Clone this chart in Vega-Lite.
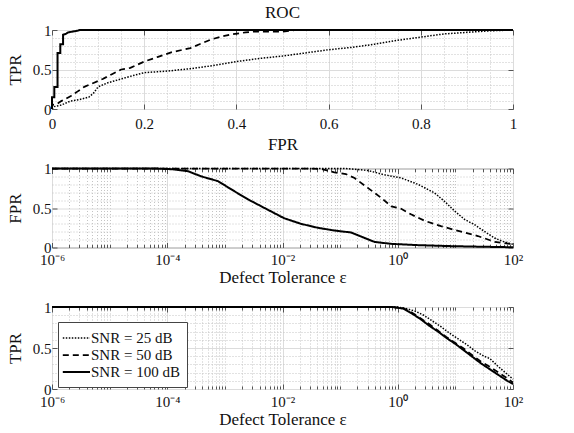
{
  "$schema": "https://vega.github.io/schema/vega-lite/v6.json",
  "background": "white",
  "padding": {"left": 5, "top": 3, "right": 5, "bottom": 5},
  "bounds": "flush",
  "spacing": 59.5,
  "config": {
    "font": "Liberation Serif",
    "view": {"stroke": "#808080", "strokeWidth": 1},
    "axis": {
      "domain": false,
      "grid": true,
      "labelFontSize": 15,
      "labelColor": "#111111",
      "titleFontSize": 17,
      "titleFontWeight": "normal",
      "titleColor": "#111111",
      "tickColor": "#555555",
      "labelOverlap": false,
      "labelBound": false,
      "labelFlush": false
    },
    "legend": {
      "orient": "none", "legendX": 6, "legendY": 15, "title": null,
      "symbolType": "M-1.4,0H2", "symbolSize": 256, "strokeColor": "#444444", "fillColor": "white",
      "padding": 7, "labelFontSize": 15, "labelColor": "#111111", "rowPadding": 0,
      "labelOffset": 8, "symbolStrokeColor": "black", "symbolFillColor": "transparent", "cornerRadius": 0
    }
  },
  "datasets": {
    "roc": [
      {"snr": "SNR = 100 dB", "FPR": 0, "TPR": 0},
      {"snr": "SNR = 100 dB", "FPR": 0, "TPR": 0.15},
      {"snr": "SNR = 100 dB", "FPR": 0.005, "TPR": 0.15},
      {"snr": "SNR = 100 dB", "FPR": 0.005, "TPR": 0.28},
      {"snr": "SNR = 100 dB", "FPR": 0.012, "TPR": 0.28},
      {"snr": "SNR = 100 dB", "FPR": 0.012, "TPR": 0.71},
      {"snr": "SNR = 100 dB", "FPR": 0.018, "TPR": 0.71},
      {"snr": "SNR = 100 dB", "FPR": 0.018, "TPR": 0.82},
      {"snr": "SNR = 100 dB", "FPR": 0.024, "TPR": 0.82},
      {"snr": "SNR = 100 dB", "FPR": 0.024, "TPR": 0.94},
      {"snr": "SNR = 100 dB", "FPR": 0.03, "TPR": 0.95},
      {"snr": "SNR = 100 dB", "FPR": 0.035, "TPR": 0.97},
      {"snr": "SNR = 100 dB", "FPR": 0.045, "TPR": 0.98},
      {"snr": "SNR = 100 dB", "FPR": 0.055, "TPR": 0.99},
      {"snr": "SNR = 100 dB", "FPR": 0.06, "TPR": 1},
      {"snr": "SNR = 100 dB", "FPR": 1, "TPR": 1},
      {"snr": "SNR = 50 dB", "FPR": 0, "TPR": 0},
      {"snr": "SNR = 50 dB", "FPR": 0, "TPR": 0.05},
      {"snr": "SNR = 50 dB", "FPR": 0.01, "TPR": 0.06},
      {"snr": "SNR = 50 dB", "FPR": 0.02, "TPR": 0.1},
      {"snr": "SNR = 50 dB", "FPR": 0.04, "TPR": 0.16},
      {"snr": "SNR = 50 dB", "FPR": 0.055, "TPR": 0.22},
      {"snr": "SNR = 50 dB", "FPR": 0.07, "TPR": 0.28},
      {"snr": "SNR = 50 dB", "FPR": 0.09, "TPR": 0.33},
      {"snr": "SNR = 50 dB", "FPR": 0.11, "TPR": 0.38},
      {"snr": "SNR = 50 dB", "FPR": 0.13, "TPR": 0.44},
      {"snr": "SNR = 50 dB", "FPR": 0.15, "TPR": 0.5},
      {"snr": "SNR = 50 dB", "FPR": 0.17, "TPR": 0.52},
      {"snr": "SNR = 50 dB", "FPR": 0.2, "TPR": 0.6},
      {"snr": "SNR = 50 dB", "FPR": 0.23, "TPR": 0.66},
      {"snr": "SNR = 50 dB", "FPR": 0.26, "TPR": 0.72},
      {"snr": "SNR = 50 dB", "FPR": 0.3, "TPR": 0.77},
      {"snr": "SNR = 50 dB", "FPR": 0.32, "TPR": 0.82},
      {"snr": "SNR = 50 dB", "FPR": 0.345, "TPR": 0.88},
      {"snr": "SNR = 50 dB", "FPR": 0.37, "TPR": 0.92},
      {"snr": "SNR = 50 dB", "FPR": 0.39, "TPR": 0.945},
      {"snr": "SNR = 50 dB", "FPR": 0.42, "TPR": 0.97},
      {"snr": "SNR = 50 dB", "FPR": 0.44, "TPR": 0.98},
      {"snr": "SNR = 50 dB", "FPR": 0.5, "TPR": 0.98},
      {"snr": "SNR = 50 dB", "FPR": 0.53, "TPR": 1},
      {"snr": "SNR = 50 dB", "FPR": 1, "TPR": 1},
      {"snr": "SNR = 25 dB", "FPR": 0, "TPR": 0},
      {"snr": "SNR = 25 dB", "FPR": 0.005, "TPR": 0.03},
      {"snr": "SNR = 25 dB", "FPR": 0.02, "TPR": 0.05},
      {"snr": "SNR = 25 dB", "FPR": 0.04, "TPR": 0.1},
      {"snr": "SNR = 25 dB", "FPR": 0.06, "TPR": 0.12},
      {"snr": "SNR = 25 dB", "FPR": 0.08, "TPR": 0.15},
      {"snr": "SNR = 25 dB", "FPR": 0.09, "TPR": 0.2},
      {"snr": "SNR = 25 dB", "FPR": 0.1, "TPR": 0.28},
      {"snr": "SNR = 25 dB", "FPR": 0.12, "TPR": 0.33},
      {"snr": "SNR = 25 dB", "FPR": 0.15, "TPR": 0.38},
      {"snr": "SNR = 25 dB", "FPR": 0.18, "TPR": 0.43},
      {"snr": "SNR = 25 dB", "FPR": 0.2, "TPR": 0.46},
      {"snr": "SNR = 25 dB", "FPR": 0.25, "TPR": 0.48},
      {"snr": "SNR = 25 dB", "FPR": 0.3, "TPR": 0.51},
      {"snr": "SNR = 25 dB", "FPR": 0.35, "TPR": 0.55},
      {"snr": "SNR = 25 dB", "FPR": 0.4, "TPR": 0.6},
      {"snr": "SNR = 25 dB", "FPR": 0.45, "TPR": 0.64},
      {"snr": "SNR = 25 dB", "FPR": 0.5, "TPR": 0.67},
      {"snr": "SNR = 25 dB", "FPR": 0.55, "TPR": 0.71},
      {"snr": "SNR = 25 dB", "FPR": 0.6, "TPR": 0.75},
      {"snr": "SNR = 25 dB", "FPR": 0.65, "TPR": 0.78},
      {"snr": "SNR = 25 dB", "FPR": 0.7, "TPR": 0.82},
      {"snr": "SNR = 25 dB", "FPR": 0.75, "TPR": 0.87},
      {"snr": "SNR = 25 dB", "FPR": 0.8, "TPR": 0.91},
      {"snr": "SNR = 25 dB", "FPR": 0.85, "TPR": 0.95},
      {"snr": "SNR = 25 dB", "FPR": 0.9, "TPR": 0.97},
      {"snr": "SNR = 25 dB", "FPR": 0.95, "TPR": 0.99},
      {"snr": "SNR = 25 dB", "FPR": 1, "TPR": 1}
    ],
    "fpr": [
      {"snr": "SNR = 100 dB", "eps": 1e-6, "FPR": 1},
      {"snr": "SNR = 100 dB", "eps": 6.31e-5, "FPR": 1},
      {"snr": "SNR = 100 dB", "eps": 1.259e-4, "FPR": 0.99},
      {"snr": "SNR = 100 dB", "eps": 2.29e-4, "FPR": 0.966},
      {"snr": "SNR = 100 dB", "eps": 3.89e-4, "FPR": 0.9},
      {"snr": "SNR = 100 dB", "eps": 7.59e-4, "FPR": 0.84},
      {"snr": "SNR = 100 dB", "eps": 1.479e-3, "FPR": 0.71},
      {"snr": "SNR = 100 dB", "eps": 2.512e-3, "FPR": 0.61},
      {"snr": "SNR = 100 dB", "eps": 5.495e-3, "FPR": 0.48},
      {"snr": "SNR = 100 dB", "eps": 1.072e-2, "FPR": 0.37},
      {"snr": "SNR = 100 dB", "eps": 2.089e-2, "FPR": 0.3},
      {"snr": "SNR = 100 dB", "eps": 4.074e-2, "FPR": 0.25},
      {"snr": "SNR = 100 dB", "eps": 7.943e-2, "FPR": 0.215},
      {"snr": "SNR = 100 dB", "eps": 0.1549, "FPR": 0.19},
      {"snr": "SNR = 100 dB", "eps": 0.2291, "FPR": 0.14},
      {"snr": "SNR = 100 dB", "eps": 0.3981, "FPR": 0.07},
      {"snr": "SNR = 100 dB", "eps": 0.7762, "FPR": 0.046},
      {"snr": "SNR = 100 dB", "eps": 2.239, "FPR": 0.03},
      {"snr": "SNR = 100 dB", "eps": 8.511, "FPR": 0.017},
      {"snr": "SNR = 100 dB", "eps": 28.18, "FPR": 0.01},
      {"snr": "SNR = 100 dB", "eps": 100, "FPR": 0.003},
      {"snr": "SNR = 50 dB", "eps": 1e-6, "FPR": 1},
      {"snr": "SNR = 50 dB", "eps": 0.03162, "FPR": 1},
      {"snr": "SNR = 50 dB", "eps": 0.0501, "FPR": 0.99},
      {"snr": "SNR = 50 dB", "eps": 0.0794, "FPR": 0.95},
      {"snr": "SNR = 50 dB", "eps": 0.1259, "FPR": 0.93},
      {"snr": "SNR = 50 dB", "eps": 0.1778, "FPR": 0.88},
      {"snr": "SNR = 50 dB", "eps": 0.302, "FPR": 0.755},
      {"snr": "SNR = 50 dB", "eps": 0.5129, "FPR": 0.63},
      {"snr": "SNR = 50 dB", "eps": 0.7762, "FPR": 0.52},
      {"snr": "SNR = 50 dB", "eps": 1.148, "FPR": 0.49},
      {"snr": "SNR = 50 dB", "eps": 1.698, "FPR": 0.42},
      {"snr": "SNR = 50 dB", "eps": 2.884, "FPR": 0.34},
      {"snr": "SNR = 50 dB", "eps": 5.623, "FPR": 0.27},
      {"snr": "SNR = 50 dB", "eps": 12.59, "FPR": 0.2},
      {"snr": "SNR = 50 dB", "eps": 24.55, "FPR": 0.145},
      {"snr": "SNR = 50 dB", "eps": 47.86, "FPR": 0.072},
      {"snr": "SNR = 50 dB", "eps": 100, "FPR": 0.04},
      {"snr": "SNR = 25 dB", "eps": 1e-6, "FPR": 1},
      {"snr": "SNR = 25 dB", "eps": 0.1259, "FPR": 1},
      {"snr": "SNR = 25 dB", "eps": 0.302, "FPR": 0.975},
      {"snr": "SNR = 25 dB", "eps": 0.5888, "FPR": 0.92},
      {"snr": "SNR = 25 dB", "eps": 1.148, "FPR": 0.88},
      {"snr": "SNR = 25 dB", "eps": 2.239, "FPR": 0.8},
      {"snr": "SNR = 25 dB", "eps": 4.365, "FPR": 0.69},
      {"snr": "SNR = 25 dB", "eps": 6.457, "FPR": 0.585},
      {"snr": "SNR = 25 dB", "eps": 9.772, "FPR": 0.46},
      {"snr": "SNR = 25 dB", "eps": 14.45, "FPR": 0.355},
      {"snr": "SNR = 25 dB", "eps": 21.38, "FPR": 0.29},
      {"snr": "SNR = 25 dB", "eps": 31.62, "FPR": 0.205},
      {"snr": "SNR = 25 dB", "eps": 47.86, "FPR": 0.12},
      {"snr": "SNR = 25 dB", "eps": 70.79, "FPR": 0.07},
      {"snr": "SNR = 25 dB", "eps": 100, "FPR": 0.04}
    ],
    "tpr": [
      {"snr": "SNR = 100 dB", "eps": 1e-6, "TPR": 1},
      {"snr": "SNR = 100 dB", "eps": 0.8, "TPR": 1},
      {"snr": "SNR = 100 dB", "eps": 1.259, "TPR": 0.98},
      {"snr": "SNR = 100 dB", "eps": 1.778, "TPR": 0.92},
      {"snr": "SNR = 100 dB", "eps": 2.512, "TPR": 0.85},
      {"snr": "SNR = 100 dB", "eps": 3.548, "TPR": 0.77},
      {"snr": "SNR = 100 dB", "eps": 5.012, "TPR": 0.7},
      {"snr": "SNR = 100 dB", "eps": 7.079, "TPR": 0.62},
      {"snr": "SNR = 100 dB", "eps": 10, "TPR": 0.55},
      {"snr": "SNR = 100 dB", "eps": 14.13, "TPR": 0.47},
      {"snr": "SNR = 100 dB", "eps": 19.95, "TPR": 0.39},
      {"snr": "SNR = 100 dB", "eps": 28.18, "TPR": 0.31},
      {"snr": "SNR = 100 dB", "eps": 39.81, "TPR": 0.24},
      {"snr": "SNR = 100 dB", "eps": 56.23, "TPR": 0.17},
      {"snr": "SNR = 100 dB", "eps": 79.43, "TPR": 0.1},
      {"snr": "SNR = 100 dB", "eps": 100, "TPR": 0.06},
      {"snr": "SNR = 50 dB", "eps": 1e-6, "TPR": 1},
      {"snr": "SNR = 50 dB", "eps": 0.8, "TPR": 1},
      {"snr": "SNR = 50 dB", "eps": 1.259, "TPR": 0.985},
      {"snr": "SNR = 50 dB", "eps": 1.778, "TPR": 0.93},
      {"snr": "SNR = 50 dB", "eps": 2.512, "TPR": 0.86},
      {"snr": "SNR = 50 dB", "eps": 3.548, "TPR": 0.79},
      {"snr": "SNR = 50 dB", "eps": 5.012, "TPR": 0.71},
      {"snr": "SNR = 50 dB", "eps": 7.079, "TPR": 0.63},
      {"snr": "SNR = 50 dB", "eps": 10, "TPR": 0.56},
      {"snr": "SNR = 50 dB", "eps": 14.13, "TPR": 0.49},
      {"snr": "SNR = 50 dB", "eps": 19.95, "TPR": 0.41},
      {"snr": "SNR = 50 dB", "eps": 28.18, "TPR": 0.33},
      {"snr": "SNR = 50 dB", "eps": 39.81, "TPR": 0.27},
      {"snr": "SNR = 50 dB", "eps": 56.23, "TPR": 0.2},
      {"snr": "SNR = 50 dB", "eps": 79.43, "TPR": 0.13},
      {"snr": "SNR = 50 dB", "eps": 100, "TPR": 0.08},
      {"snr": "SNR = 25 dB", "eps": 1e-6, "TPR": 1},
      {"snr": "SNR = 25 dB", "eps": 1, "TPR": 1},
      {"snr": "SNR = 25 dB", "eps": 1.413, "TPR": 0.98},
      {"snr": "SNR = 25 dB", "eps": 1.995, "TPR": 0.95},
      {"snr": "SNR = 25 dB", "eps": 2.818, "TPR": 0.9},
      {"snr": "SNR = 25 dB", "eps": 3.981, "TPR": 0.83},
      {"snr": "SNR = 25 dB", "eps": 5.623, "TPR": 0.76},
      {"snr": "SNR = 25 dB", "eps": 7.943, "TPR": 0.68},
      {"snr": "SNR = 25 dB", "eps": 11.22, "TPR": 0.61},
      {"snr": "SNR = 25 dB", "eps": 15.85, "TPR": 0.54},
      {"snr": "SNR = 25 dB", "eps": 22.39, "TPR": 0.46},
      {"snr": "SNR = 25 dB", "eps": 31.62, "TPR": 0.4},
      {"snr": "SNR = 25 dB", "eps": 39.81, "TPR": 0.37},
      {"snr": "SNR = 25 dB", "eps": 56.23, "TPR": 0.27},
      {"snr": "SNR = 25 dB", "eps": 79.43, "TPR": 0.18},
      {"snr": "SNR = 25 dB", "eps": 100, "TPR": 0.12}
    ]
  },
  "resolve": {
    "scale": {"strokeDash": "independent", "strokeWidth": "independent"},
    "legend": {"strokeDash": "independent", "strokeWidth": "independent"}
  },
  "vconcat": [
    {
      "title": {"text": "ROC", "fontSize": 17, "fontWeight": "normal", "offset": 1, "color": "#111111"},
      "width": 461,
      "height": 79,
      "data": {"name": "roc"},
      "resolve": {"axis": {"x": "independent", "y": "independent"}},
      "layer": [
        {
          "mark": {"type": "line", "color": "black", "strokeCap": "butt"},
          "encoding": {
            "x": {
              "field": "FPR", "type": "quantitative",
              "scale": {"domain": [0, 1], "nice": false, "zero": false},
              "axis": {
                "title": "FPR",
                "values": [0, 0.05, 0.1, 0.15, 0.2, 0.25, 0.3, 0.35, 0.4, 0.45, 0.5, 0.55, 0.6, 0.65, 0.7, 0.75, 0.8, 0.85, 0.9, 0.95, 1],
                "labelExpr": "indexof([0,0.2,0.4,0.6,0.8,1], datum.value) >= 0 ? format(datum.value, '~g') : ''",
                "gridColor": {"condition": {"test": "indexof([0,0.2,0.4,0.6,0.8,1], datum.value) >= 0", "value": "#dcdcdc"}, "value": "#c4c4c4"},
                "gridDash": {"condition": {"test": "indexof([0,0.2,0.4,0.6,0.8,1], datum.value) >= 0", "value": []}, "value": [1, 2]},
                "tickSize": {"condition": {"test": "indexof([0,0.2,0.4,0.6,0.8,1], datum.value) >= 0", "value": -5}, "value": 0},
                "labelPadding": 12,
                "titlePadding": 0
              }
            },
            "y": {
              "field": "TPR", "type": "quantitative",
              "scale": {"domain": [0, 1], "nice": false},
              "axis": {
                "title": "TPR",
                "values": [0, 0.1, 0.2, 0.3, 0.4, 0.5, 0.6, 0.7, 0.8, 0.9, 1],
                "labelExpr": "indexof([0,0.5,1], datum.value) >= 0 ? format(datum.value, '~g') : ''",
                "gridColor": {"condition": {"test": "indexof([0,0.5,1], datum.value) >= 0", "value": "#dcdcdc"}, "value": "#c4c4c4"},
                "gridDash": {"condition": {"test": "indexof([0,0.5,1], datum.value) >= 0", "value": []}, "value": [1, 2]},
                "tickSize": {"condition": {"test": "indexof([0,0.5,1], datum.value) >= 0", "value": -5}, "value": 0},
                "labelPadding": 6,
                "titlePadding": 8
              }
            },
            "strokeDash": {"field": "snr", "type": "ordinal", "scale": {"domain": ["SNR = 25 dB", "SNR = 50 dB", "SNR = 100 dB"], "range": [[1.5, 1.5], [6, 4], [1, 0]]}, "legend": null},
            "strokeWidth": {"field": "snr", "type": "ordinal", "scale": {"domain": ["SNR = 25 dB", "SNR = 50 dB", "SNR = 100 dB"], "range": [1.5, 2, 2]}, "legend": null},
            "order": {"value": null}
          }
        },
        {
          "mark": {"type": "line", "strokeOpacity": 0},
          "encoding": {
            "x": {"field": "FPR", "type": "quantitative", "scale": {"domain": [0, 1], "nice": false, "zero": false},
              "axis": {"orient": "top", "values": [0, 0.2, 0.4, 0.6, 0.8, 1], "labels": false, "title": null, "grid": false, "tickSize": -5}},
            "y": {"field": "TPR", "type": "quantitative", "scale": {"domain": [0, 1], "nice": false},
              "axis": {"orient": "right", "values": [0, 0.5, 1], "labels": false, "title": null, "grid": false, "tickSize": -5}},
            "order": {"value": null}
          }
        }
      ]
    },
    {
      "width": 461,
      "height": 79,
      "data": {"name": "fpr"},
      "resolve": {"axis": {"x": "independent", "y": "independent"}},
      "layer": [
        {
          "mark": {"type": "line", "color": "black", "strokeCap": "butt"},
          "encoding": {
            "x": {
              "field": "eps", "type": "quantitative",
              "scale": {"type": "log", "domain": [0.000001, 100], "nice": false},
              "axis": {
                "title": "Defect Tolerance ε",
                "values": [1e-6, 2e-6, 3e-6, 4e-6, 5e-6, 6e-6, 7e-6, 8e-6, 9e-6, 1e-5, 2e-5, 3e-5, 4e-5, 5e-5, 6e-5, 7e-5, 8e-5, 9e-5, 1e-4, 2e-4, 3e-4, 4e-4, 5e-4, 6e-4, 7e-4, 8e-4, 9e-4, 0.001, 0.002, 0.003, 0.004, 0.005, 0.006, 0.007, 0.008, 0.009, 0.01, 0.02, 0.03, 0.04, 0.05, 0.06, 0.07, 0.08, 0.09, 0.1, 0.2, 0.3, 0.4, 0.5, 0.6, 0.7, 0.8, 0.9, 1, 2, 3, 4, 5, 6, 7, 8, 9, 10, 20, 30, 40, 50, 60, 70, 80, 90, 100],
                "labelExpr": "datum.value == 0.000001 ? '10⁻⁶' : datum.value == 0.0001 ? '10⁻⁴' : datum.value == 0.01 ? '10⁻²' : datum.value == 1 ? '10⁰' : datum.value == 100 ? '10²' : ''",
                "gridColor": {"condition": {"test": "indexof([0.000001,0.0001,0.01,1,100], datum.value) >= 0", "value": "#dcdcdc"}, "value": "#c4c4c4"},
                "gridDash": {"condition": {"test": "indexof([0.000001,0.0001,0.01,1,100], datum.value) >= 0", "value": []}, "value": [1, 2]},
                "tickSize": {"condition": {"test": "indexof([0.000001,0.0001,0.01,1,100], datum.value) >= 0", "value": -5}, "value": -3},
                "labelPadding": 10,
                "titlePadding": 0
              }
            },
            "y": {
              "field": "FPR", "type": "quantitative",
              "scale": {"domain": [0, 1], "nice": false},
              "axis": {
                "title": "FPR",
                "values": [0, 0.1, 0.2, 0.3, 0.4, 0.5, 0.6, 0.7, 0.8, 0.9, 1],
                "labelExpr": "indexof([0,0.5,1], datum.value) >= 0 ? format(datum.value, '~g') : ''",
                "gridColor": {"condition": {"test": "indexof([0,0.5,1], datum.value) >= 0", "value": "#dcdcdc"}, "value": "#c4c4c4"},
                "gridDash": {"condition": {"test": "indexof([0,0.5,1], datum.value) >= 0", "value": []}, "value": [1, 2]},
                "tickSize": {"condition": {"test": "indexof([0,0.5,1], datum.value) >= 0", "value": -5}, "value": 0},
                "labelPadding": 6,
                "titlePadding": 8
              }
            },
            "strokeDash": {"field": "snr", "type": "ordinal", "scale": {"domain": ["SNR = 25 dB", "SNR = 50 dB", "SNR = 100 dB"], "range": [[1.5, 1.5], [6, 4], [1, 0]]}, "legend": null},
            "strokeWidth": {"field": "snr", "type": "ordinal", "scale": {"domain": ["SNR = 25 dB", "SNR = 50 dB", "SNR = 100 dB"], "range": [1.5, 2, 2]}, "legend": null},
            "order": {"value": null}
          }
        },
        {
          "mark": {"type": "line", "strokeOpacity": 0},
          "encoding": {
            "x": {"field": "eps", "type": "quantitative", "scale": {"type": "log", "domain": [0.000001, 100], "nice": false},
              "axis": {"orient": "top", "labels": false, "title": null, "grid": false,
                "values": [1e-6, 2e-6, 3e-6, 4e-6, 5e-6, 6e-6, 7e-6, 8e-6, 9e-6, 1e-5, 2e-5, 3e-5, 4e-5, 5e-5, 6e-5, 7e-5, 8e-5, 9e-5, 1e-4, 2e-4, 3e-4, 4e-4, 5e-4, 6e-4, 7e-4, 8e-4, 9e-4, 0.001, 0.002, 0.003, 0.004, 0.005, 0.006, 0.007, 0.008, 0.009, 0.01, 0.02, 0.03, 0.04, 0.05, 0.06, 0.07, 0.08, 0.09, 0.1, 0.2, 0.3, 0.4, 0.5, 0.6, 0.7, 0.8, 0.9, 1, 2, 3, 4, 5, 6, 7, 8, 9, 10, 20, 30, 40, 50, 60, 70, 80, 90, 100],
                "tickSize": {"condition": {"test": "indexof([0.000001,0.0001,0.01,1,100], datum.value) >= 0", "value": -5}, "value": -3}}},
            "y": {"field": "FPR", "type": "quantitative", "scale": {"domain": [0, 1], "nice": false},
              "axis": {"orient": "right", "values": [0, 0.5, 1], "labels": false, "title": null, "grid": false, "tickSize": -5}},
            "order": {"value": null}
          }
        }
      ]
    },
    {
      "width": 461,
      "height": 82,
      "data": {"name": "tpr"},
      "resolve": {"axis": {"x": "independent", "y": "independent"}},
      "layer": [
        {
          "mark": {"type": "line", "color": "black", "strokeCap": "butt"},
          "encoding": {
            "x": {
              "field": "eps", "type": "quantitative",
              "scale": {"type": "log", "domain": [0.000001, 100], "nice": false},
              "axis": {
                "title": "Defect Tolerance ε",
                "values": [1e-6, 2e-6, 3e-6, 4e-6, 5e-6, 6e-6, 7e-6, 8e-6, 9e-6, 1e-5, 2e-5, 3e-5, 4e-5, 5e-5, 6e-5, 7e-5, 8e-5, 9e-5, 1e-4, 2e-4, 3e-4, 4e-4, 5e-4, 6e-4, 7e-4, 8e-4, 9e-4, 0.001, 0.002, 0.003, 0.004, 0.005, 0.006, 0.007, 0.008, 0.009, 0.01, 0.02, 0.03, 0.04, 0.05, 0.06, 0.07, 0.08, 0.09, 0.1, 0.2, 0.3, 0.4, 0.5, 0.6, 0.7, 0.8, 0.9, 1, 2, 3, 4, 5, 6, 7, 8, 9, 10, 20, 30, 40, 50, 60, 70, 80, 90, 100],
                "labelExpr": "datum.value == 0.000001 ? '10⁻⁶' : datum.value == 0.0001 ? '10⁻⁴' : datum.value == 0.01 ? '10⁻²' : datum.value == 1 ? '10⁰' : datum.value == 100 ? '10²' : ''",
                "gridColor": {"condition": {"test": "indexof([0.000001,0.0001,0.01,1,100], datum.value) >= 0", "value": "#dcdcdc"}, "value": "#c4c4c4"},
                "gridDash": {"condition": {"test": "indexof([0.000001,0.0001,0.01,1,100], datum.value) >= 0", "value": []}, "value": [1, 2]},
                "tickSize": {"condition": {"test": "indexof([0.000001,0.0001,0.01,1,100], datum.value) >= 0", "value": -5}, "value": -3},
                "labelPadding": 10,
                "titlePadding": 0
              }
            },
            "y": {
              "field": "TPR", "type": "quantitative",
              "scale": {"domain": [0, 1], "nice": false},
              "axis": {
                "title": "TPR",
                "values": [0, 0.1, 0.2, 0.3, 0.4, 0.5, 0.6, 0.7, 0.8, 0.9, 1],
                "labelExpr": "indexof([0,0.5,1], datum.value) >= 0 ? format(datum.value, '~g') : ''",
                "gridColor": {"condition": {"test": "indexof([0,0.5,1], datum.value) >= 0", "value": "#dcdcdc"}, "value": "#c4c4c4"},
                "gridDash": {"condition": {"test": "indexof([0,0.5,1], datum.value) >= 0", "value": []}, "value": [1, 2]},
                "tickSize": {"condition": {"test": "indexof([0,0.5,1], datum.value) >= 0", "value": -5}, "value": 0},
                "labelPadding": 6,
                "titlePadding": 8
              }
            },
            "strokeDash": {"field": "snr", "type": "ordinal", "scale": {"domain": ["SNR = 25 dB", "SNR = 50 dB", "SNR = 100 dB"], "range": [[1.5, 1.5], [6, 4], [1, 0]]}, "legend": {}},
            "strokeWidth": {"field": "snr", "type": "ordinal", "scale": {"domain": ["SNR = 25 dB", "SNR = 50 dB", "SNR = 100 dB"], "range": [1.5, 2, 2]}, "legend": {}},
            "order": {"value": null}
          }
        },
        {
          "mark": {"type": "line", "strokeOpacity": 0},
          "encoding": {
            "x": {"field": "eps", "type": "quantitative", "scale": {"type": "log", "domain": [0.000001, 100], "nice": false},
              "axis": {"orient": "top", "labels": false, "title": null, "grid": false,
                "values": [1e-6, 2e-6, 3e-6, 4e-6, 5e-6, 6e-6, 7e-6, 8e-6, 9e-6, 1e-5, 2e-5, 3e-5, 4e-5, 5e-5, 6e-5, 7e-5, 8e-5, 9e-5, 1e-4, 2e-4, 3e-4, 4e-4, 5e-4, 6e-4, 7e-4, 8e-4, 9e-4, 0.001, 0.002, 0.003, 0.004, 0.005, 0.006, 0.007, 0.008, 0.009, 0.01, 0.02, 0.03, 0.04, 0.05, 0.06, 0.07, 0.08, 0.09, 0.1, 0.2, 0.3, 0.4, 0.5, 0.6, 0.7, 0.8, 0.9, 1, 2, 3, 4, 5, 6, 7, 8, 9, 10, 20, 30, 40, 50, 60, 70, 80, 90, 100],
                "tickSize": {"condition": {"test": "indexof([0.000001,0.0001,0.01,1,100], datum.value) >= 0", "value": -5}, "value": -3}}},
            "y": {"field": "TPR", "type": "quantitative", "scale": {"domain": [0, 1], "nice": false},
              "axis": {"orient": "right", "values": [0, 0.5, 1], "labels": false, "title": null, "grid": false, "tickSize": -5}},
            "order": {"value": null}
          }
        }
      ]
    }
  ]
}
